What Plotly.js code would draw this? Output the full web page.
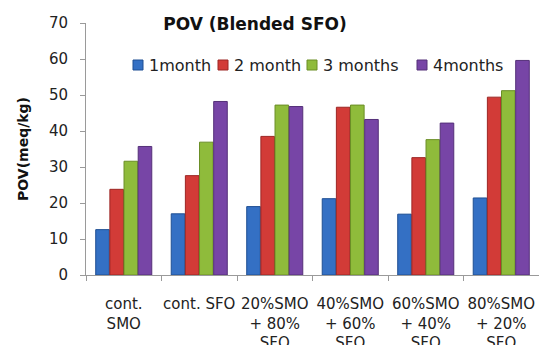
<!DOCTYPE html>
<html>
<head>
<meta charset="utf-8">
<script src="https://cdn.plot.ly/plotly-3.0.1.min.js"></script>
<style>
  html, body { margin: 0; padding: 0; background: #fff; }
  #chart { width: 539px; height: 345px; }
</style>
</head>
<body>
<div id="chart"></div>
<script>
// Oil blends (x-axis categories)
const categories = [
  "cont.<br>SMO",
  "cont. SFO",
  "20%SMO<br>+ 80%<br>SFO",
  "40%SMO<br>+ 60%<br>SFO",
  "60%SMO<br>+ 40%<br>SFO",
  "80%SMO<br>+ 20%<br>SFO"
];

// Storage periods (series names)
const seriesNames = ["1month", "2 month", "3 months", "4months"];

// Peroxide value, meq/kg, per storage period
const month1 = [12.6, 17.0, 19.0, 21.2, 16.9, 21.4];
const month2 = [23.8, 27.6, 38.5, 46.6, 32.6, 49.4];
const month3 = [31.6, 36.9, 47.2, 47.2, 37.6, 51.2];
const month4 = [35.7, 48.2, 46.8, 43.2, 42.2, 59.6];

const seriesValues = [month1, month2, month3, month4];
const fills   = ["#3470C4", "#D23B37", "#8FBB3B", "#7745A6"];
const borders = ["#1F4F93", "#9C2624", "#6A8E25", "#553079"];

const font = "'DejaVu Sans', sans-serif";

const traces = seriesValues.map((vals, i) => ({
  type: "bar",
  name: seriesNames[i],
  x: categories,
  y: vals,
  marker: { color: fills[i], line: { color: borders[i], width: 1 } },
  hoverinfo: "x+y+name"
}));

// Compact legend row: small square swatch followed by its label
const legendLeft = [133, 218, 307, 417];   // swatch left edges, px
const legendY = 65;                         // row centre, px
const W = 539, H = 345, ML = 86, MR = 0, MT = 23, MB = 70;
const pw = W - ML - MR, ph = H - MT - MB;
const px2x = p => (p - ML) / pw;
const px2y = p => (H - MB - p) / ph;

const shapes = [], annotations = [];
seriesNames.forEach((name, i) => {
  shapes.push({
    type: "rect", xref: "paper", yref: "paper",
    x0: px2x(legendLeft[i]), x1: px2x(legendLeft[i] + 10),
    y0: px2y(legendY + 5), y1: px2y(legendY - 5),
    fillcolor: fills[i], line: { color: borders[i], width: 1 }
  });
  annotations.push({
    xref: "paper", yref: "paper",
    x: px2x(legendLeft[i] + 14), y: px2y(legendY),
    xanchor: "left", yanchor: "middle",
    text: name, showarrow: false,
    font: { family: font, size: 16, color: "#222" }
  });
});

const layout = {
  width: W,
  height: H,
  margin: { l: ML, r: MR, t: MT, b: MB },
  paper_bgcolor: "#fff",
  plot_bgcolor: "#fff",
  font: { family: font, size: 15, color: "#222" },
  title: {
    text: "<b>POV (Blended SFO)</b>",
    font: { family: font, size: 17, color: "#111" },
    xref: "paper", x: 0.373, xanchor: "center",
    yref: "container", y: 0.930, yanchor: "middle"
  },
  barmode: "group",
  bargap: 0.25,
  bargroupgap: 0.04,
  showlegend: false,
  shapes: shapes,
  annotations: annotations,
  xaxis: {
    type: "category",
    showline: true, linecolor: "#9a9a9a", linewidth: 1,
    ticks: "outside", tickson: "boundaries", ticklen: 5, tickcolor: "#9a9a9a",
    showgrid: false, zeroline: false,
    tickfont: { family: font, size: 15, color: "#222" },
    ticklabelstandoff: 15,
    tickangle: 0
  },
  yaxis: {
    range: [0, 70], dtick: 10,
    showline: true, linecolor: "#9a9a9a", linewidth: 1,
    ticks: "outside", ticklen: 5, tickcolor: "#9a9a9a",
    showgrid: false, zeroline: false,
    tickfont: { family: font, size: 15, color: "#222" },
    ticklabelstandoff: 9,
    title: {
      text: "<b>POV(meq/kg)</b>",
      font: { family: font, size: 14, color: "#111" },
      standoff: 17
    }
  }
};

Plotly.newPlot("chart", traces, layout, { displayModeBar: false, staticPlot: true });
</script>
</body>
</html>
